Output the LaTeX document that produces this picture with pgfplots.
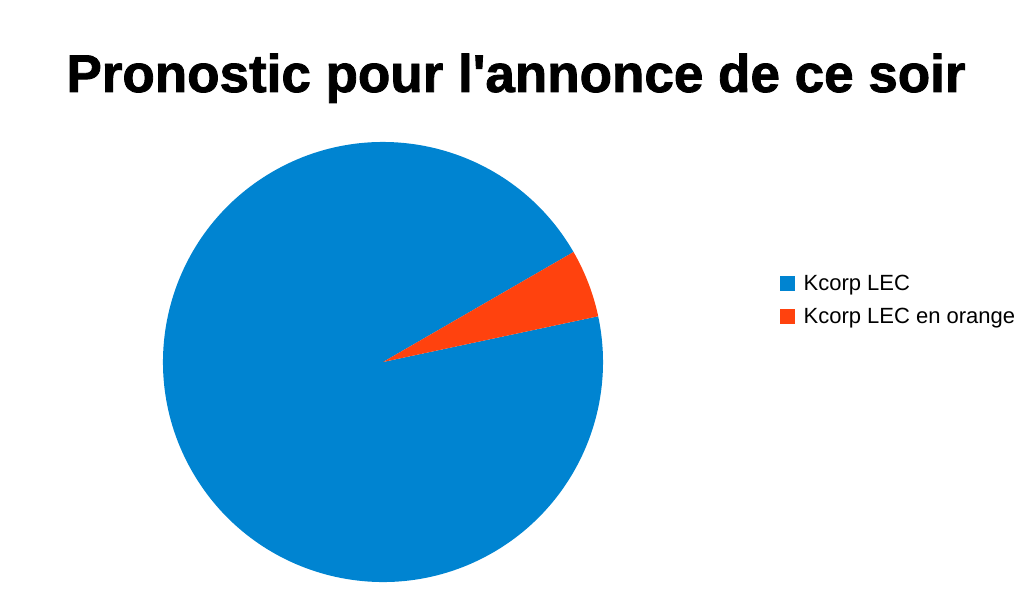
\documentclass[border=0pt]{standalone}
\usepackage{fontspec}
\setmainfont{Liberation Sans}
\newfontfamily\titlefont[FakeBold=1.6]{Liberation Sans Bold}
\usepackage{pgfplots}
\usepackage{pgfplotstable}
\pgfplotsset{compat=1.18}
\definecolor{pieblue}{HTML}{0084D1}
\definecolor{pieorange}{HTML}{FF420E}

% share of each slice, in percent
\pgfplotstableread{
name value
{Kcorp LEC} 95
{Kcorp LEC en orange} 5
}\piedata

\begin{document}
\begin{tikzpicture}
\pgfplotstablegetelem{0}{value}\of\piedata \let\va\pgfplotsretval
\pgfplotstablegetelem{1}{value}\of\piedata \let\vb\pgfplotsretval
\pgfmathsetmacro{\startb}{12}
\pgfmathsetmacro{\endb}{\startb+3.6*\vb}
\pgfmathsetmacro{\enda}{\endb+3.6*\va}
\begin{axis}[
    width=1034bp, height=597bp, scale only axis,
    xmin=0, xmax=1034, ymin=0, ymax=597,
    hide axis, clip=false,
    legend style={at={(axis cs:780,324)}, anchor=north west, draw=none,
        fill=none, font=\fontsize{22bp}{26bp}\selectfont,
        row sep=12bp, column sep=7bp, inner sep=0pt},
    legend cell align=left,
    legend image code/.code={\fill[#1] (0bp,-7bp) rectangle (14bp,7bp);},
]
\path (axis cs:0,0) rectangle (axis cs:1034,597);
\fill[pieblue] (axis cs:383,235) -- ++(\endb:220bp) arc[start angle=\endb, end angle=\enda, radius=220bp] -- cycle;
\fill[pieorange] (axis cs:383,235) -- ++(\startb:220bp) arc[start angle=\startb, end angle=\endb, radius=220bp] -- cycle;
\node[font=\fontsize{53bp}{60bp}\titlefont, anchor=base, inner sep=0pt] at (axis cs:516,505) {Pronostic pour l\textquotesingle annonce de ce soir};
\addlegendimage{pieblue}
\addlegendentry{Kcorp LEC}
\addlegendimage{pieorange}
\addlegendentry{Kcorp LEC en orange}
\end{axis}
\end{tikzpicture}
\end{document}
